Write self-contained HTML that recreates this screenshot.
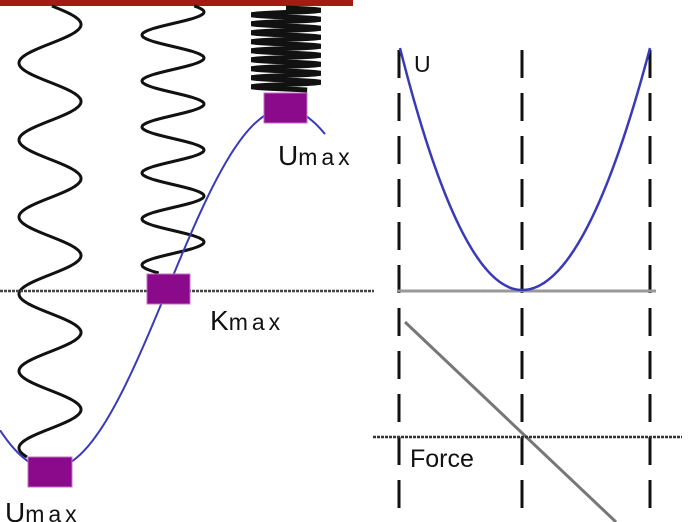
<!DOCTYPE html>
<html><head><style>
html,body{margin:0;padding:0;background:#fff;}
svg{display:block;}
text{font-family:"Liberation Sans",sans-serif;fill:#111;}
</style></head><body>
<svg id="s" width="696" height="522" viewBox="0 0 696 522" xmlns="http://www.w3.org/2000/svg">
<rect x="0" y="0" width="353" height="6" fill="#a51a12"/>
<path id="sp1" fill="none" stroke="#111" stroke-width="3"/>
<path id="sp2" fill="none" stroke="#111" stroke-width="3"/>
<path id="sp3" fill="none" stroke="#111" stroke-width="5"/>
<line x1="0" y1="291" x2="374" y2="291" stroke="#444" stroke-width="2.5" stroke-dasharray="3 1"/>
<path id="sine" fill="none" stroke="#3a3ab8" stroke-width="2"/>
<rect x="264" y="93" width="43" height="30" fill="#8b0a8b" stroke="#c070c0"/>
<rect x="147" y="274" width="43" height="30" fill="#8b0a8b" stroke="#c070c0"/>
<rect x="28" y="457" width="44" height="30" fill="#8b0a8b" stroke="#c070c0"/>
<text x="278" y="165" font-size="28">U<tspan font-size="23" letter-spacing="4">max</tspan></text>
<text x="210" y="330" font-size="28">K<tspan font-size="23" letter-spacing="4">max</tspan></text>
<text x="5" y="522" font-size="28">U<tspan font-size="23" letter-spacing="4">max</tspan></text>
<g stroke="#111" stroke-width="3" stroke-dasharray="28 15">
<line x1="399" y1="50" x2="399" y2="522"/>
<line x1="522" y1="50" x2="522" y2="522"/>
<line x1="650" y1="50" x2="650" y2="522"/>
</g>
<line x1="398" y1="291" x2="656" y2="291" stroke="#999" stroke-width="3"/>
<path id="par" fill="none" stroke="#3a3ab8" stroke-width="2.5"/>
<text x="414" y="72" font-size="23">U</text>
<line x1="405" y1="322" x2="616" y2="522" stroke="#777" stroke-width="3"/>
<line x1="373" y1="437" x2="682" y2="437" stroke="#333" stroke-width="2.5" stroke-dasharray="3 1"/>
<text x="410" y="467" font-size="25">Force</text>
</svg>
<script>
function spring(c,A,P,yl,y0,y1){var d="";for(var y=y0;y<=y1;y+=1){var x=c+A*Math.cos(2*Math.PI*(y-yl)/P+Math.PI);d+=(d?"L":"M")+x.toFixed(1)+","+y;}return d;}
document.getElementById("sp1").setAttribute("d",spring(50,31,77,63,6,457));
document.getElementById("sp2").setAttribute("d",spring(173,31,46,35,6,273));
var d="";for(var y=8;y<=90;y+=0.5){var x=286+33*Math.sin(2*Math.PI*(y-8)/9);d+=(d?"L":"M")+x.toFixed(1)+","+y;}
document.getElementById("sp3").setAttribute("d",d);
d="";for(var x=0;x<=325;x+=1){var y=289+180*Math.cos(2*Math.PI*(x-50)/470);d+=(d?"L":"M")+x+","+y.toFixed(1);}
document.getElementById("sine").setAttribute("d",d);
d="";for(var x=400;x<=650;x+=1){var t=x<522?(x-522)/122:(x-522)/128;var y=290-242*t*t;d+=(d?"L":"M")+x+","+y.toFixed(1);}
document.getElementById("par").setAttribute("d",d);
</script>
</body></html>
